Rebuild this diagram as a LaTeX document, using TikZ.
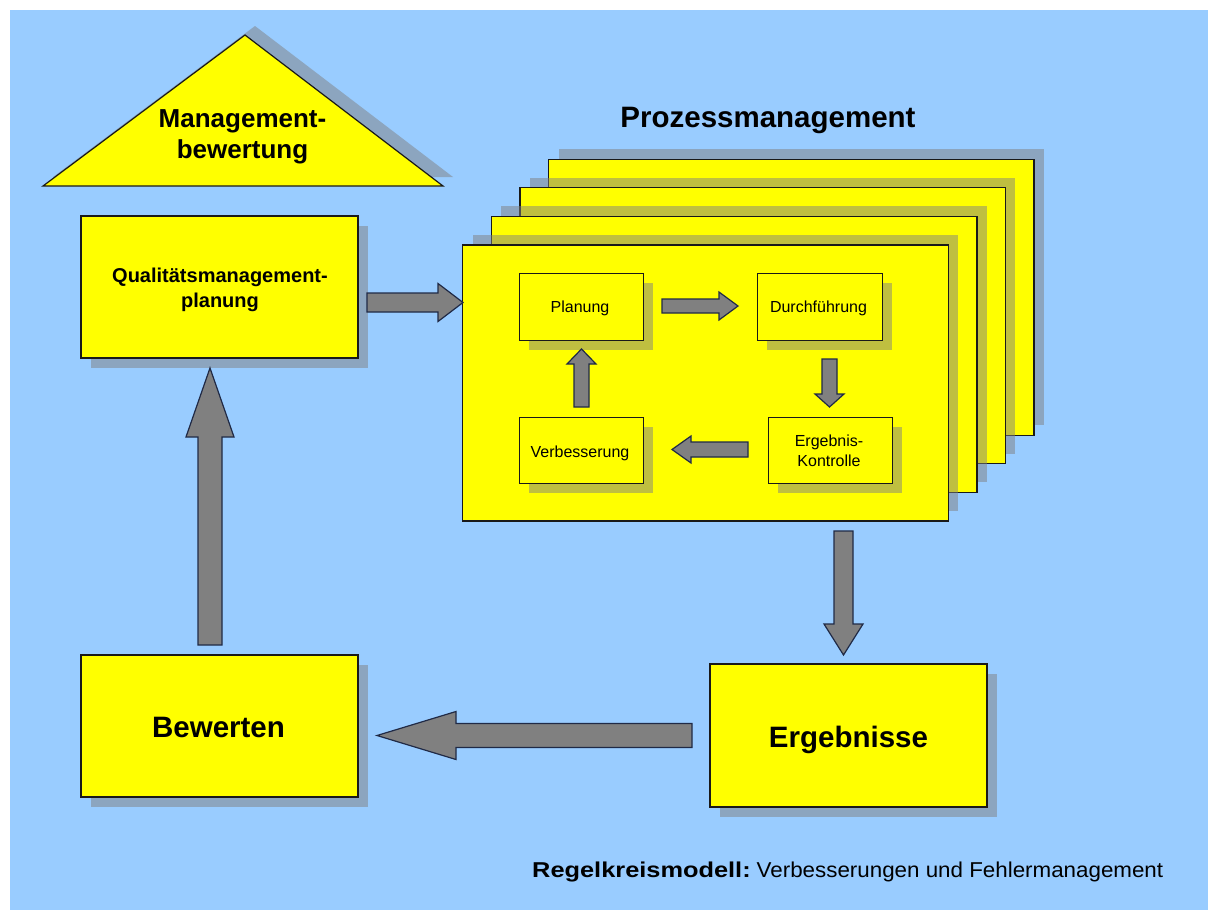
\documentclass[tikz,border=0pt]{standalone}
\usepackage{fontspec}
\setmainfont{Liberation Sans}
\usetikzlibrary{calc,shadows}

\definecolor{bgblue}{RGB}{153,204,255}
\definecolor{boxyellow}{RGB}{255,255,0}
\definecolor{arrowgray}{RGB}{128,128,128}
\definecolor{arrowline}{RGB}{32,42,70}
\definecolor{edgeline}{RGB}{25,25,25}

\tikzset{
  shadowdr/.style={drop shadow={shadow xshift=10pt, shadow yshift=-10pt, fill=black!50, opacity=0.5}},
  shadowur/.style={drop shadow={shadow xshift=10pt, shadow yshift=10pt, fill=black!50, opacity=0.5}},
  shadowfill/.style={fill=black!50, fill opacity=0.5},
  bigbox/.style={draw=edgeline, line width=1.3pt, fill=boxyellow, inner sep=0pt,
                 minimum width=277pt, minimum height=142pt, shadowdr},
  card/.style={draw=edgeline, line width=1.3pt, fill=boxyellow, inner sep=0pt,
               minimum width=485.5pt, minimum height=276pt, shadowur},
  smallbox/.style={draw=edgeline, line width=1pt, fill=boxyellow, inner sep=0pt,
                   minimum width=124pt, minimum height=67pt, shadowdr},
  tri/.style={draw=edgeline, line width=1.2pt, fill=boxyellow, line join=miter},
  blockarrow/.style={fill=arrowgray, draw=arrowline, line width=1.2pt, line join=miter},
  txt/.style={inner sep=0pt, align=center},
}

% block arrows between two named points: tail, tip, half shaft, half head, head length
\newcommand\hblock[5]{%
  \draw[blockarrow] let \p1=(#1), \p2=(#2),
      \n1={\x2-ifthenelse(\x2>\x1,#5,-#5)} in
    ({\x1},{\y1+#3}) -- ({\n1},{\y1+#3}) -- ({\n1},{\y1+#4}) -- ({\x2},{\y1})
    -- ({\n1},{\y1-#4}) -- ({\n1},{\y1-#3}) -- ({\x1},{\y1-#3}) -- cycle;}
\newcommand\vblock[5]{%
  \draw[blockarrow] let \p1=(#1), \p2=(#2),
      \n1={\y2-ifthenelse(\y2>\y1,#5,-#5)} in
    ({\x1+#3},{\y1}) -- ({\x1+#3},{\n1}) -- ({\x1+#4},{\n1}) -- ({\x1},{\y2})
    -- ({\x1-#4},{\n1}) -- ({\x1-#3},{\n1}) -- ({\x1-#3},{\y1}) -- cycle;}

\newcommand\fbig{\fontsize{29.5}{35}\selectfont\bfseries}
\newcommand\ftri{\fontsize{26}{31}\selectfont\bfseries}
\newcommand\fqm{\fontsize{20}{25}\selectfont\bfseries}
\newcommand\fsmall{\fontsize{16}{19.5}\selectfont}
\newcommand\fcap{\fontsize{21.5}{26}\selectfont}

\begin{document}
\frenchspacing
\begin{tikzpicture}[x=1pt,y=-1pt]
\useasboundingbox (0,0) rectangle (1208,910);
\fill[bgblue] (10,10) rectangle (1208,910);

% management review roof
\fill[shadowfill] (255,26) -- (453,177) -- (53,177) -- cycle;
\draw[tri] (245,35) -- (443,186) -- (43,186) -- cycle;
\node[txt, font=\ftri] (mbt) at (242.5,137) {Management-\\bewertung};

% left column
\node[bigbox] (qm) at (219.5,287) {};
\node[txt, font=\fqm] (qmt) at (220,290) {Qualitätsmanagement-\\planung};
\node[bigbox] (bew) at (219.5,726) {};
\node[txt, font=\fbig, anchor=base] (bewt) at (218.5,737) {Bewerten};

% results
\node[bigbox, minimum height=143pt] (erg) at (848.5,735.5) {};
\node[txt, font=\fbig, anchor=base] (ergt) at (848.5,747) {Ergebnisse};

% process management stack (back to front)
\node[txt, font=\fbig, anchor=base] (pmt) at (768,127) {Prozessmanagement};
\node[card] (c4) at (791.3,297.2) {};
\node[card] (c3) at (762.7,325.8) {};
\node[card] (c2) at (734.1,354.4) {};
\node[card] (c1) at (705.5,383) {};

% inner cycle
\node[smallbox] (plan) at (581,306.5) {};
\node[txt, font=\fsmall, anchor=base] (plant) at (580,312) {Planung};
\node[smallbox, minimum width=125pt] (durch) at (819.5,306.5) {};
\node[txt, font=\fsmall, anchor=base] (durcht) at (818.5,312) {Durchführung};
\node[smallbox, minimum height=66pt] (verb) at (581,450) {};
\node[txt, font=\fsmall, anchor=base] (verbt) at (580,457) {Verbesserung};
\node[smallbox, minimum height=66pt] (kontr) at (830,450) {};
\node[txt, font=\fsmall] (kontrt) at (829,451) {Ergebnis-\\Kontrolle};

% arrow end points
\coordinate (a1s) at (367,302.5);   \coordinate (a1e) at (463,302.5);
\coordinate (a2s) at (662,306);     \coordinate (a2e) at (738,306);
\coordinate (a3s) at (829.5,359);   \coordinate (a3e) at (829.5,407);
\coordinate (a4s) at (748,449.5);   \coordinate (a4e) at (672,449.5);
\coordinate (a5s) at (581.5,407);   \coordinate (a5e) at (581.5,349);
\coordinate (a6s) at (843.5,531);   \coordinate (a6e) at (843.5,655);
\coordinate (a7s) at (692,735.5);   \coordinate (a7e) at (377,735.5);
\coordinate (a8s) at (210,645);     \coordinate (a8e) at (210,368);

\hblock{a1s}{a1e}{9.5pt}{19pt}{25pt}
\hblock{a2s}{a2e}{7pt}{14pt}{19pt}
\vblock{a3s}{a3e}{7.5pt}{14.5pt}{13pt}
\hblock{a4s}{a4e}{7.5pt}{13.5pt}{19pt}
\vblock{a5s}{a5e}{7.5pt}{14.5pt}{15pt}
\vblock{a6s}{a6e}{9.5pt}{19.5pt}{31pt}
\hblock{a7s}{a7e}{12pt}{24pt}{79pt}
\vblock{a8s}{a8e}{12pt}{24pt}{69pt}

% caption
\node[inner sep=0pt, anchor=base west, font=\fcap] (cap) at (532,877)
  {\scalebox{1.18}[1]{\bfseries Regelkreismodell:}\hspace{6pt}%
   \scalebox{1.04}[1]{Verbesserungen und Fehlermanagement}};
\end{tikzpicture}
\end{document}
